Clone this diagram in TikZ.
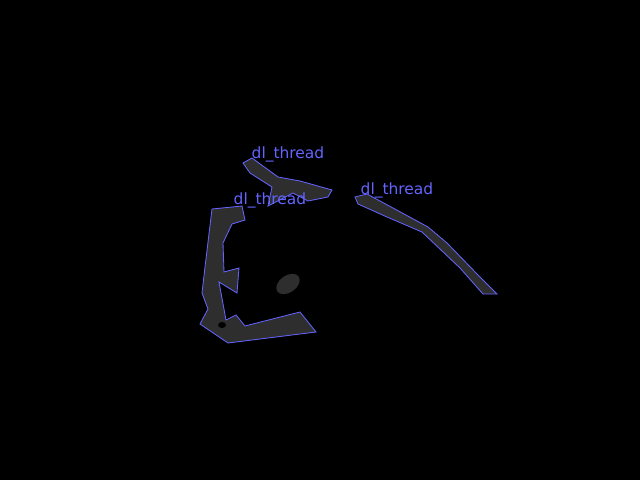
\documentclass[tikz,border=0pt]{standalone}
\usepackage{fontspec}
\setmainfont{DejaVu Sans}
\definecolor{threadblue}{RGB}{100,100,255}
\definecolor{threadgray}{RGB}{46,46,46}
\tikzset{
  thread/.style={fill=threadgray, draw=threadblue, line width=0.6pt, line join=miter},
  threadlabel/.style={text=threadblue, inner sep=0pt, font=\fontsize{11}{11}\selectfont}
}
\begin{document}
\begin{tikzpicture}[x=0.025cm, y=-0.025cm]
  \fill[black] (0,0) rectangle (640,480);
  \useasboundingbox (0,0) rectangle (640,480);
  % left piece
  \draw[thread] (212,209) -- (242,206) -- (245,220) -- (232,224) -- (223,243) -- (224,272)
    -- (239,268) -- (237,293) -- (219,282) -- (226,320) -- (236,315) -- (245,326)
    -- (300,312) -- (316,332) -- (228,343) -- (200,324) -- (208,309) -- (202,293)
    -- (205,267) -- cycle;
  \fill[black] (222,325) ellipse (4 and 3);
  \fill[threadgray] (288,284) ellipse [x radius=13, y radius=8.5, rotate=35];
  % top piece
  \draw[thread] (243,163) -- (252,158) -- (278,177) -- (300,181) -- (332,190) -- (328,197)
    -- (308,201) -- (293,193) -- (268,206) -- (272,187) -- (250,173) -- cycle;
  % right piece
  \draw[thread] (355,197) -- (367,194) -- (393,208) -- (428,227) -- (447,243) -- (478,275)
    -- (497,294) -- (483,294) -- (460,268) -- (422,232) -- (387,217) -- (358,204) -- cycle;
  \node[threadlabel] (label1) at (288,154) {dl\_thread};
  \node[threadlabel] (label2) at (270,200) {dl\_thread};
  \node[threadlabel] (label3) at (397,190) {dl\_thread};
\end{tikzpicture}
\end{document}
